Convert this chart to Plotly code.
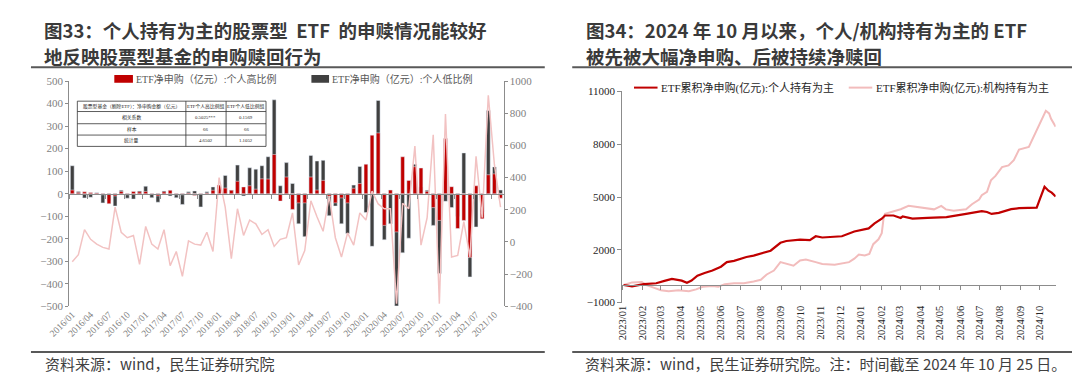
import plotly.graph_objects as go

W, H = 1080, 381

# ---------------- data: left chart (monthly, 2016/01 - 2021/11) ----------------
months = [f"{y}/{m:02d}" for y in range(2016, 2022) for m in range(1, 13)][:71]

etf_high_ratio = [16, 5, 8, 5, 3, -5, -45, -10, 10, -5, 10, 8, 10, -3, -10, 8, 15, -5, -5, 3,
                  -8, -3, 3, 15, 38, 25, 15, 55, 30, 35, 20, 66, 65, 174, -33, 74, -70, -41, -41, 74,
                  16, 59, -12, -41, -19, -41, 24, 45, 131, 260, 270, -141, 16, -170, 164, 59, 120, 114, 10, -62,
                  -119, 245, 31, -155, -119, -284, 35, -112, 84, 88, -20]
etf_low_ratio = [124, 10, -19, -16, 4, -41, -30, -55, 15, -20, -24, 12, 33, -18, -38, 12, -10, -18, -48, 8,
                 12, -59, 8, 30, 10, 81, 15, 127, -10, 115, 109, 124, 164, 417, 35, 138, 45, -134, -191, 170,
                 145, 148, -98, -55, -134, -177, 38, 121, -84, -234, 414, -205, -134, -499, -263, -198, 131, 30, 15, -141,
                 -355, -34, -62, -100, 181, -370, -148, -80, 370, 119, 16]
stock_fund_ex_etf = [-124, -80, 76, 16, -14, -34, -44, 216, 60, 26, 40, -140, 96, -14, -44, 76, -148, -60, -214, 6,
                     -14, -20, 60, -60, 400, 216, -104, 206, 40, 136, 112, 46, 76, -28, 16, 26, 180, -144, -54, 256,
                     156, 66, 286, 26, -94, 56, -20, 180, 136, 316, 236, 206, 206, -384, 240, 206, 596, -20, 150, 666,
                     -384, 796, -94, -84, 126, -94, 532, 150, 912, 480, 216]

left_tick_labels = months[::3]

table_header = ["股票型基金（剔除ETF）：净申购金额（亿元）", "ETF个人高比例组", "ETF个人低比例组"]
table_rows = [["相关系数", "0.5025***", "0.1569"],
              ["样本", "66", "66"],
              ["统计量", "4.6502", "1.1052"]]

# ---------------- data: right chart (cumulative net subscription) ----------------
indiv_dates = ["2023-01-03", "2023-01-16", "2023-02-03", "2023-02-22", "2023-03-08", "2023-03-18", "2023-04-02",
               "2023-04-10", "2023-04-17", "2023-04-26", "2023-05-07", "2023-05-19", "2023-06-01", "2023-06-10",
               "2023-06-21", "2023-07-01", "2023-07-10", "2023-07-21", "2023-08-05", "2023-08-16", "2023-08-31",
               "2023-09-09", "2023-09-30", "2023-10-15", "2023-10-24", "2023-11-03", "2023-12-03", "2023-12-22",
               "2024-01-13", "2024-01-22", "2024-02-02", "2024-02-07", "2024-02-20", "2024-03-02", "2024-03-05",
               "2024-03-20", "2024-04-12", "2024-05-11", "2024-06-10", "2024-07-04", "2024-07-12", "2024-07-19",
               "2024-07-30", "2024-08-18", "2024-08-30", "2024-09-26", "2024-10-01", "2024-10-08", "2024-10-14",
               "2024-10-19", "2024-10-25"]
indiv_values = [0, -80, 50, 100, 250, 350, 250, 130, 250, 530, 680, 820, 1040, 1300, 1370, 1500, 1590, 1670,
                1850, 1950, 2400, 2500, 2580, 2550, 2770, 2700, 2770, 3040, 3220, 3500, 3770, 3950, 3950, 3810,
                3900, 3770, 3820, 3860, 4040, 4200, 4150, 4040, 4100, 4310, 4370, 4400, 4900, 5580, 5360, 5250, 5030]

inst_dates = ["2023-01-03", "2023-01-16", "2023-01-31", "2023-02-07", "2023-02-18", "2023-03-01", "2023-03-13",
              "2023-03-28", "2023-04-13", "2023-04-24", "2023-05-04", "2023-05-19", "2023-05-28", "2023-06-07",
              "2023-06-21", "2023-07-06", "2023-07-21", "2023-08-01", "2023-08-10", "2023-08-21", "2023-08-31",
              "2023-09-09", "2023-09-20", "2023-09-30", "2023-10-09", "2023-10-24", "2023-11-03", "2023-11-22",
              "2023-12-14", "2023-12-22", "2023-12-29", "2024-01-07", "2024-01-14", "2024-01-20", "2024-01-28",
              "2024-02-02", "2024-02-05", "2024-02-07", "2024-02-20", "2024-03-02", "2024-03-14", "2024-04-03",
              "2024-04-22", "2024-05-03", "2024-05-10", "2024-05-22", "2024-06-10", "2024-06-19", "2024-06-30",
              "2024-07-04", "2024-07-12", "2024-07-18", "2024-07-25", "2024-08-04", "2024-08-14", "2024-08-22",
              "2024-08-30", "2024-09-14", "2024-09-19", "2024-09-30", "2024-10-10", "2024-10-15", "2024-10-18",
              "2024-10-25"]
inst_values = [0, 150, 170, 0, -150, -300, -350, -300, -350, -250, -100, -50, -100, 50, 100, 100, 200, 300, 600,
               820, 1300, 1200, 1100, 1400, 1450, 1300, 1200, 1150, 1300, 1500, 1730, 1680, 1770, 2320, 2600, 2950,
               3860, 4050, 4200, 4310, 4500, 4400, 4300, 4500, 4300, 4220, 4300, 4590, 4860, 5100, 5300, 5950,
               6200, 6700, 6800, 7100, 7700, 7850, 8250, 9170, 9900, 9750, 9450, 9000]

right_yticks = [-1000, 2000, 5000, 8000, 11000]

# ---------------- styling ----------------
SERIF = 'Liberation Serif, "Noto Sans CJK SC"'
CJK = '"Noto Sans CJK SC", sans-serif'
RED = "#c00000"
DARK = "#404040"
PINK_L = "#f2c2c2"
PINK_R = "#f2bcbc"
AXC = "#8c8c8c"


def px(x):
    return x / W


def py(y):
    return 1 - y / H


fig = go.Figure()

fig.add_trace(go.Bar(x=months, y=etf_low_ratio, marker_color=DARK, width=0.62,
                     name="ETF净申购（亿元）:个人低比例", xaxis="x", yaxis="y"))
fig.add_trace(go.Bar(x=months, y=etf_high_ratio, marker_color=RED, width=0.62,
                     name="ETF净申购（亿元）:个人高比例", xaxis="x", yaxis="y"))
fig.add_trace(go.Scatter(x=months, y=stock_fund_ex_etf, mode="lines", line=dict(color=PINK_L, width=1.5),
                         name="股票型基金（剔除ETF）净申购", xaxis="x", yaxis="y2"))
# helper (empty) trace so the zero-line axis is drawn
fig.add_trace(go.Scatter(x=[], y=[], xaxis="x2", yaxis="y", showlegend=False))

fig.add_trace(go.Scatter(x=inst_dates, y=inst_values, mode="lines", line=dict(color=PINK_R, width=2),
                         name="ETF累积净申购(亿元):机构持有为主", xaxis="x3", yaxis="y3"))
fig.add_trace(go.Scatter(x=indiv_dates, y=indiv_values, mode="lines", line=dict(color=RED, width=2.2),
                         name="ETF累积净申购(亿元):个人持有为主", xaxis="x3", yaxis="y3"))
fig.add_trace(go.Scatter(x=[], y=[], xaxis="x4", yaxis="y3", showlegend=False))

left_dom_x = [px(41), px(484)]
left_dom_y = [py(301.7), py(69.3)]
right_dom_x = [px(605), px(1047)]
right_dom_y = [py(298), py(80)]

fig.update_layout(
    width=W, height=H, margin=dict(l=0, r=0, t=0, b=0),
    paper_bgcolor="white", plot_bgcolor="white", showlegend=False, barmode="overlay",
    xaxis=dict(domain=left_dom_x, anchor="y", type="category", categoryorder="array", categoryarray=months,
               range=[-0.5, len(months) - 0.5], tickmode="array", tickvals=left_tick_labels, tickangle=-45,
               showline=False, ticks="", showgrid=False, zeroline=False,
               tickfont=dict(family=SERIF, size=9.5, color="#7f7f7f")),
    xaxis2=dict(domain=left_dom_x, overlaying="x", anchor="free", position=py(185.5), type="linear",
                range=[-0.5, len(months) - 0.5], tickmode="array",
                tickvals=[i - 0.5 for i in range(0, len(months) + 1, 3)],
                showline=True, linecolor=AXC, ticks="outside", ticklen=4, tickcolor=AXC,
                showticklabels=False, showgrid=False, zeroline=False),
    yaxis=dict(domain=left_dom_y, anchor="x", range=[-500, 500], dtick=100, tick0=0, showline=True,
               linecolor=AXC, ticks="outside", ticklen=3, tickcolor=AXC, showgrid=False, zeroline=False,
               tickfont=dict(family=SERIF, size=11, color="#7f7f7f")),
    yaxis2=dict(overlaying="y", side="right", anchor="x", range=[-400, 1000], dtick=200, tick0=0,
                showline=True, linecolor=AXC, ticks="outside", ticklen=3, tickcolor=AXC, showgrid=False,
                zeroline=False, tickfont=dict(family=SERIF, size=11, color="#7f7f7f")),
    xaxis3=dict(domain=right_dom_x, anchor="y3", type="date", range=["2023-01-01", "2024-10-25"],
                dtick="M1", tick0="2023-01-01", tickformat="%Y/%m", tickangle=-90, showline=False, ticks="",
                showgrid=False, zeroline=False, tickfont=dict(family=SERIF, size=10.5, color="#262626")),
    xaxis4=dict(domain=right_dom_x, overlaying="x3", anchor="free", position=py(279.5), type="date",
                range=["2023-01-01", "2024-10-25"], dtick="M1", tick0="2023-01-01", showline=True,
                linecolor=AXC, ticks="outside", ticklen=4, tickcolor=AXC, showticklabels=False,
                showgrid=False, zeroline=False),
    yaxis3=dict(domain=right_dom_y, anchor="x3", range=[-1000, 11000], tickmode="array", tickvals=right_yticks,
                tickformat="d", showline=True, linecolor=AXC, ticks="outside", ticklen=4, tickcolor=AXC,
                showgrid=False, zeroline=False, tickfont=dict(family=SERIF, size=11, color="#262626")),
)

shapes = []
annos = []

# separators
for x0, x1 in [(2, 526), (554, 1078)]:
    for yy in (55, 349):
        shapes.append(dict(type="line", xref="paper", yref="paper", x0=px(x0), x1=px(x1), y0=py(yy), y1=py(yy),
                           line=dict(color="#595959", width=2)))

# titles (two lines each)
title_font = dict(family=CJK, size=18.5, color="#3a3a3a")
annos += [
    dict(text="<b>图33：个人持有为主的股票型\u00a0\u00a0ETF\u00a0\u00a0的申赎情况能较好</b>", x=px(13), y=py(16.5)),
    dict(text="<b>地反映股票型基金的申购赎回行为</b>", x=px(13), y=py(43.5)),
    dict(text="<b>图34：2024 年 10 月以来，个人/机构持有为主的 ETF</b>", x=px(566), y=py(16.5)),
    dict(text="<b>被先被大幅净申购、后被持续净赎回</b>", x=px(566), y=py(43.5)),
]
for a in annos:
    a.update(xref="paper", yref="paper", xanchor="left", yanchor="middle", showarrow=False, font=title_font)

src_font = dict(family=CJK, size=15, color="#404040")
annos += [
    dict(text="资料来源：wind，民生证券研究院", x=px(14), y=py(361), xref="paper", yref="paper",
         xanchor="left", yanchor="middle", showarrow=False, font=src_font),
    dict(text="资料来源：wind，民生证券研究院。注：时间截至 2024 年 10 月 25 日。", x=px(565), y=py(361),
         xref="paper", yref="paper", xanchor="left", yanchor="middle", showarrow=False, font=src_font),
]

# left legend
leg_font = dict(family=SERIF, size=10, color="#595959")
for (bx0, bx1, col, name) in [(87, 106, RED, fig.data[1].name), (288, 306, DARK, fig.data[0].name)]:
    shapes.append(dict(type="rect", xref="paper", yref="paper", x0=px(bx0), x1=px(bx1), y0=py(71), y1=py(63),
                       fillcolor=col, line=dict(width=0)))
    annos.append(dict(text=name, x=px(bx1 + 1), y=py(67), xref="paper", yref="paper", xanchor="left",
                      yanchor="middle", showarrow=False, font=leg_font))

# right legend
leg_font2 = dict(family=SERIF, size=11, color="#262626")
for (lx0, lx1, col, name) in [(617, 641, RED, fig.data[5].name), (836, 860, PINK_R, fig.data[4].name)]:
    shapes.append(dict(type="line", xref="paper", yref="paper", x0=px(lx0), x1=px(lx1), y0=py(76), y1=py(76),
                       line=dict(color=col, width=2)))
    annos.append(dict(text=name, x=px(lx1 + 2), y=py(76), xref="paper", yref="paper", xanchor="left",
                      yanchor="middle", showarrow=False, font=leg_font2))

# inset table
tx = [49.3, 160, 201, 241.7]
ty = [90, 100.7, 113.3, 125, 136.7]
shapes.append(dict(type="rect", xref="paper", yref="paper", x0=px(tx[0]), x1=px(tx[-1]), y0=py(ty[-1]),
                   y1=py(ty[0]), fillcolor="white", line=dict(color="#333333", width=0.8), layer="above"))
for yy in ty[1:-1]:
    shapes.append(dict(type="line", xref="paper", yref="paper", x0=px(tx[0]), x1=px(tx[-1]), y0=py(yy), y1=py(yy),
                       line=dict(color="#333333", width=0.8)))
for xx in tx[1:-1]:
    shapes.append(dict(type="line", xref="paper", yref="paper", x0=px(xx), x1=px(xx), y0=py(ty[-1]), y1=py(ty[0]),
                       line=dict(color="#333333", width=0.8)))
tab_font = dict(family=SERIF, size=4.8, color="#222222")
for r, row in enumerate([table_header] + table_rows):
    for c, cell in enumerate(row):
        annos.append(dict(text=cell, x=px((tx[c] + tx[c + 1]) / 2), y=py((ty[r] + ty[r + 1]) / 2),
                          xref="paper", yref="paper", xanchor="center", yanchor="middle", showarrow=False,
                          font=tab_font))

fig.update_layout(shapes=shapes, annotations=annos)
fig.write_html("out.html")
